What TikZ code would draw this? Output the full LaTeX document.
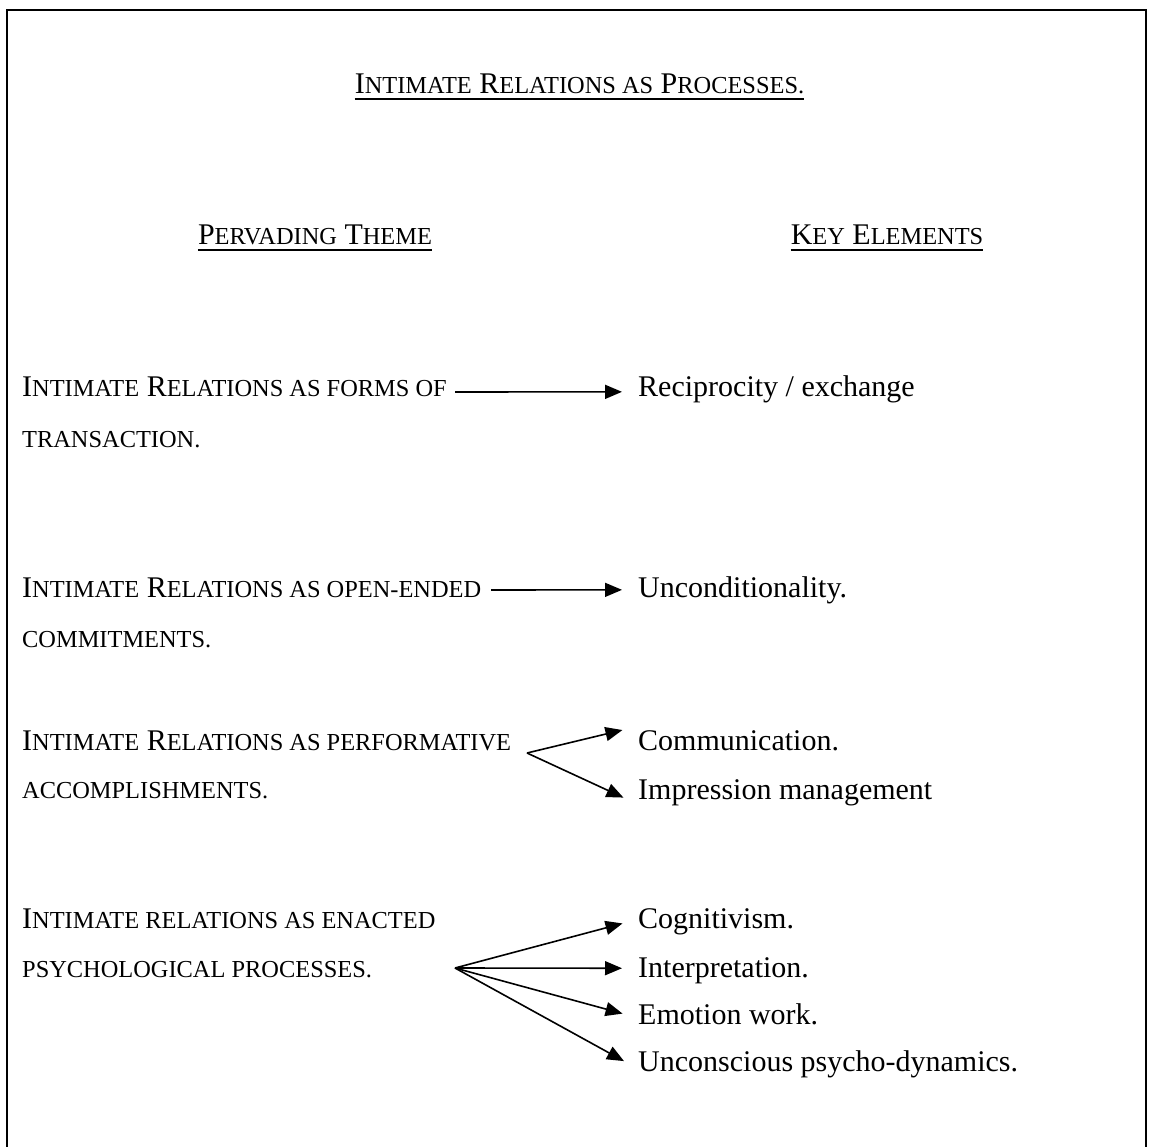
\documentclass[tikz,border=0pt]{standalone}
\usepackage{fontspec}
\setmainfont{Liberation Serif}
\usetikzlibrary{arrows.meta}
\newcommand\sml[1]{{\fontsize{24.4}{28}\selectfont #1}}
\begin{document}
\begin{tikzpicture}[x=1pt,y=-1pt,
  txt/.style={inner sep=0pt,anchor=base west,font=\fontsize{30}{36}\selectfont},
  hdr/.style={inner sep=0pt,anchor=base,font=\fontsize{30}{36}\selectfont},
  arr/.style={line width=1.6pt,-{Triangle[length=17pt,width=14pt]},shorten >=16pt},
  uline/.style={line width=1.8pt},
  frame/.style={line width=2pt}]
\useasboundingbox (0,0) rectangle (1151,1147);
\draw[frame] (6.5,1150) -- (6.5,10.5) -- (1146,10.5) -- (1146,1150);

% title and headers
\node[hdr] (title) at (579.5,94) {I\sml{NTIMATE} R\sml{ELATIONS AS} P\sml{ROCESSES.}};
\draw[uline] ([yshift=-5pt]title.base west) -- ([yshift=-5pt]title.base east);
\node[hdr] (h1) at (315,245) {P\sml{ERVADING} T\sml{HEME}};
\draw[uline] ([yshift=-5pt]h1.base west) -- ([yshift=-5pt]h1.base east);
\node[hdr] (h2) at (887,245) {K\sml{EY} E\sml{LEMENTS}};
\draw[uline] ([yshift=-5pt]h2.base west) -- ([yshift=-5pt]h2.base east);

% row 1
\node[txt] (l1a) at (22,396) {I\sml{NTIMATE} R\sml{ELATIONS AS FORMS OF}};
\node[txt] (l1b) at (22,447) {\sml{TRANSACTION.}};
\node[txt] (r1) at (638,396) {Reciprocity / exchange};
\coordinate (s1) at (455,392);
\draw[arr] (s1) -- ([yshift=-3pt]r1.west);

% row 2
\node[txt] (l2a) at (22,597) {I\sml{NTIMATE} R\sml{ELATIONS AS OPEN-ENDED}};
\node[txt] (l2b) at (22,647) {\sml{COMMITMENTS.}};
\node[txt] (r2) at (638,597) {Unconditionality.};
\coordinate (s2) at (491,590);
\draw[arr] (s2) -- (r2.west);

% row 3
\node[txt] (l3a) at (22,750) {I\sml{NTIMATE} R\sml{ELATIONS AS PERFORMATIVE}};
\node[txt] (l3b) at (22,798) {\sml{ACCOMPLISHMENTS.}};
\node[txt] (r31) at (638,750) {Communication.};
\node[txt] (r32) at (638,799) {Impression management};
\coordinate (s3) at (527,753);
\draw[arr] (s3) -- ([yshift=14pt]r31.west);
\draw[arr] (s3) -- ([yshift=-12pt]r32.west);

% row 4
\node[txt] (l4a) at (22,928) {I\sml{NTIMATE RELATIONS AS ENACTED}};
\node[txt] (l4b) at (22,977) {\sml{PSYCHOLOGICAL PROCESSES.}};
\node[txt] (r41) at (638,928) {Cognitivism.};
\node[txt] (r42) at (638,977) {Interpretation.};
\node[txt] (r43) at (638,1024) {Emotion work.};
\node[txt] (r44) at (638,1071) {Unconscious psycho-dynamics.};
\coordinate (s4) at (455,968);
\draw[arr] (s4) -- ([yshift=2pt]r41.west);
\draw[arr] (s4) -- ([yshift=2pt]r42.west);
\draw[arr] (s4) -- ([yshift=-4pt]r43.west);
\draw[arr] (s4) -- ([yshift=-5pt]r44.west);
\end{tikzpicture}
\end{document}
